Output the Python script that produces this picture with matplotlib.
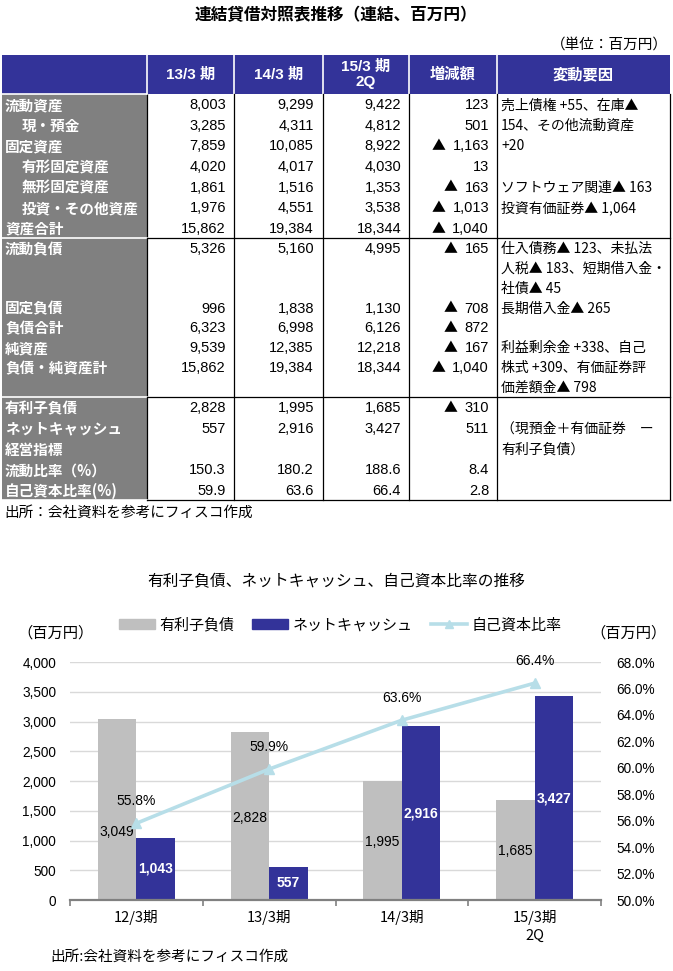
import matplotlib
matplotlib.use("Agg")
import matplotlib.pyplot as plt
from matplotlib import font_manager
from matplotlib.patches import Rectangle, Patch
from matplotlib.lines import Line2D

# ---------------- table data ----------------
table_title = "連結貸借対照表推移（連結、百万円）"
unit_note = "（単位：百万円）"
col_headers = ["13/3 期", "14/3 期", "15/3 期\n2Q", "増減額", "変動要因"]
row_labels = ["流動資産", "現・預金", "固定資産", "有形固定資産", "無形固定資産",
              "投資・その他資産", "資産合計",
              "流動負債", "", "", "固定負債", "負債合計", "純資産", "負債・純資産計", "",
              "有利子負債", "ネットキャッシュ", "経営指標", "流動比率（%）", "自己資本比率(%)"]
row_indent = [0, 1, 0, 1, 1, 1, 0,
              0, 0, 0, 0, 0, 0, 0, 0,
              0, 0, 0, 0, 0]
v13 = [8003, 3285, 7859, 4020, 1861, 1976, 15862,
       5326, None, None, 996, 6323, 9539, 15862, None,
       2828, 557, None, 150.3, 59.9]
v14 = [9299, 4311, 10085, 4017, 1516, 4551, 19384,
       5160, None, None, 1838, 6998, 12385, 19384, None,
       1995, 2916, None, 180.2, 63.6]
v15 = [9422, 4812, 8922, 4030, 1353, 3538, 18344,
       4995, None, None, 1130, 6126, 12218, 18344, None,
       1685, 3427, None, 188.6, 66.4]
change = [123, 501, -1163, 13, -163, -1013, -1040,
          -165, None, None, -708, -872, -167, -1040, None,
          -310, 511, None, 8.4, 2.8]
reasons = ["売上債権 +55、在庫▲", "154、その他流動資産", "+20", "",
           "ソフトウェア関連▲ 163", "投資有価証券▲ 1,064", "",
           "仕入債務▲ 123、未払法", "人税▲ 183、短期借入金・", "社債▲ 45",
           "長期借入金▲ 265", "", "利益剰余金 +338、自己", "株式 +309、有価証券評",
           "価差額金▲ 798",
           "", "（現預金＋有価証券　ー", "有利子負債）", "", ""]
section_sizes = [7, 8, 5]
table_source = "出所：会社資料を参考にフィスコ作成"

# ---------------- chart data ----------------
chart_title = "有利子負債、ネットキャッシュ、自己資本比率の推移"
periods = ["12/3期", "13/3期", "14/3期", "15/3期\n2Q"]
debt = [3049, 2828, 1995, 1685]
net_cash = [1043, 557, 2916, 3427]
equity_ratio = [55.8, 59.9, 63.6, 66.4]
chart_source = "出所:会社資料を参考にフィスコ作成"

installed = {f.name for f in font_manager.fontManager.ttflist}
num_font = 'Liberation Sans Narrow' if 'Liberation Sans Narrow' in installed else 'Liberation Sans'
narrow_scale = 1.1 if num_font == 'Liberation Sans Narrow' else 1.0
NARROW = [num_font, 'Noto Sans CJK JP', 'DejaVu Sans']
CJK = ['Noto Sans CJK JP', 'DejaVu Sans']
plt.rcParams['font.family'] = CJK

NAVY = '#333399'
GREY_COL = '#808080'
BAR_GREY = '#bfbfbf'
LINE_BLUE = '#b7dee8'


def fmt(v):
    if v is None:
        return ""
    return f"{abs(v):.1f}" if isinstance(v, float) else f"{abs(v):,}"


fig = plt.figure(figsize=(6.73, 9.71), dpi=100)
renderer = fig.canvas.get_renderer()
ax0 = fig.add_axes([0, 0, 1, 1])
ax0.set_xlim(0, 673)
ax0.set_ylim(971, 0)
ax0.axis('off')

# table geometry (pixels)
L, R = 2, 670
col_x = [147, 234, 323, 409, 497]
head_top, head_bot = 55, 94
sec_bounds = [94, 238, 397, 500]

ax0.text(336, 15, table_title, ha='center', va='center', fontsize=12,
         fontweight='bold', family=CJK)
ax0.text(668, 45, unit_note, ha='right', va='center', fontsize=10.5, family=CJK)

ax0.add_patch(Rectangle((L, head_top), R - L, head_bot - head_top, color=NAVY, lw=0))
ax0.add_patch(Rectangle((L, head_bot), col_x[0] - L, sec_bounds[-1] - head_bot,
                        color=GREY_COL, lw=0))
for xc in col_x:
    ax0.plot([xc, xc], [head_top, head_bot], color='white', lw=1.2)
    ax0.plot([xc, xc], [head_bot, sec_bounds[-1]], color='black', lw=0.9)
ax0.plot([R, R], [head_bot, sec_bounds[-1]], color='black', lw=0.9)
for yb in sec_bounds[1:]:
    ax0.plot([L, col_x[0]], [yb, yb], color='white', lw=1.2)
    ax0.plot([col_x[0], R], [yb, yb], color='black', lw=0.9)
ax0.plot([L, col_x[0]], [head_bot, head_bot], color='white', lw=1.2)

head_centers = [(col_x[i] + (col_x[i + 1] if i + 1 < len(col_x) else R)) / 2
                for i in range(len(col_x))]
for cx, h in zip(head_centers, col_headers):
    ax0.text(cx, (head_top + head_bot) / 2, h, ha='center', va='center',
             color='white', fontsize=11, fontweight='bold', family=NARROW,
             linespacing=1.1)

# rows
row_y = []
for s, n in enumerate(section_sizes):
    top, bot = sec_bounds[s], sec_bounds[s + 1]
    pitch = (bot - top) / n
    row_y += [top + (k + 0.5) * pitch + 1 for k in range(n)]

for i, y in enumerate(row_y):
    ax0.text(5 + 17 * row_indent[i], y, row_labels[i], ha='left', va='center',
             color='white', fontsize=10.5, fontweight='bold', family=CJK)
    for xr, col in zip([226, 314, 401, 489], [v13, v14, v15, change]):
        t = ax0.text(xr, y, fmt(col[i]), ha='right', va='center',
                     fontsize=10.5 * narrow_scale, family=NARROW)
        if col[i] is not None and col[i] < 0:
            wpx = t.get_window_extent(renderer=renderer).width
            ax0.text(xr - wpx - 7, y, "▲", ha='right', va='center',
                     fontsize=10, family=CJK)
    ax0.text(501, y, reasons[i], ha='left', va='center', fontsize=10, family=CJK)

ax0.text(4, 513, table_source, ha='left', va='center', fontsize=10.5, family=CJK)

# ---------------- chart ----------------
ax0.text(336, 582, chart_title, ha='center', va='center', fontsize=11.3, family=CJK)
ax0.text(17, 633, "（百万円）", ha='left', va='center', fontsize=11, family=CJK)
ax0.text(590, 633, "（百万円）", ha='left', va='center', fontsize=11, family=CJK)
ax0.text(50, 957, chart_source, ha='left', va='center', fontsize=10.5, family=CJK)

ax = fig.add_axes([70 / 673, 1 - 900 / 971, (601 - 70) / 673, (900 - 662) / 971])
x = list(range(len(periods)))
w = 0.29
gx = [i - w / 2 for i in x]
bx = [i + w / 2 for i in x]
ax.bar(gx, debt, width=w, color=BAR_GREY, zorder=2)
ax.bar(bx, net_cash, width=w, color=NAVY, zorder=2)
ax.set_xlim(-0.5, len(periods) - 0.5)
ax.set_ylim(0, 4000)
ax.set_yticks(range(0, 4001, 500))
ax.set_yticklabels([f"{v:,}" for v in range(0, 4001, 500)], family=NARROW,
                   fontsize=9.8 * narrow_scale)
ax.grid(axis='y', color='#d9d9d9', lw=1, zorder=0)
ax.set_axisbelow(True)
for sp in ['top', 'left', 'right']:
    ax.spines[sp].set_visible(False)
ax.spines['bottom'].set_color('#808080')
ax.spines['bottom'].set_linewidth(1.6)
ax.set_xticks(x)
ax.set_xticklabels(periods, fontsize=10.5, family=CJK, linespacing=1.35)
ax.set_xticks([i - 0.5 for i in range(len(periods) + 1)], minor=True)
ax.tick_params(axis='x', which='major', length=0, pad=7)
ax.tick_params(axis='x', which='minor', length=4, color='#808080', width=1.2)
ax.tick_params(axis='y', length=0, pad=10)

label_frac = [0.375, 0.49, 0.49, 0.49]
for i in x:
    ax.text(gx[i], debt[i] * label_frac[i], f"{debt[i]:,}", ha='center', va='center',
            fontsize=10 * narrow_scale, family=NARROW, zorder=3)
    ax.text(bx[i], net_cash[i] * 0.5, f"{net_cash[i]:,}", ha='center', va='center',
            fontsize=10 * narrow_scale, family=NARROW, fontweight='bold',
            color='white', zorder=3)

ax2 = ax.twinx()
ax2.plot(x, equity_ratio, color=LINE_BLUE, lw=2.6, marker='^', markersize=7, zorder=4)
ax2.set_ylim(50, 68)
ax2.set_yticks(range(50, 69, 2))
ax2.set_yticklabels([f"{v:.1f}%" for v in range(50, 69, 2)], family=NARROW,
                    fontsize=9.8 * narrow_scale)
ax2.tick_params(axis='y', length=0, pad=11)
for sp in ['top', 'left', 'right', 'bottom']:
    ax2.spines[sp].set_visible(False)
for i in x:
    ax2.annotate(f"{equity_ratio[i]:.1f}%", (x[i], equity_ratio[i]), xytext=(0, 16),
                 textcoords='offset points', ha='center', va='center',
                 fontsize=10 * narrow_scale, family=NARROW)

handles = [Patch(color=BAR_GREY), Patch(color=NAVY),
           Line2D([], [], color=LINE_BLUE, lw=2.6, marker='^', markersize=6)]
fig.legend(handles, ["有利子負債", "ネットキャッシュ", "自己資本比率"], ncol=3,
           loc='center', bbox_to_anchor=(0.505, 1 - 625 / 971), frameon=False,
           handlelength=2.4, handleheight=0.65, handletextpad=0.3,
           columnspacing=1.2, prop={'family': CJK, 'size': 10.8})

fig.savefig("out.png", dpi=100)
